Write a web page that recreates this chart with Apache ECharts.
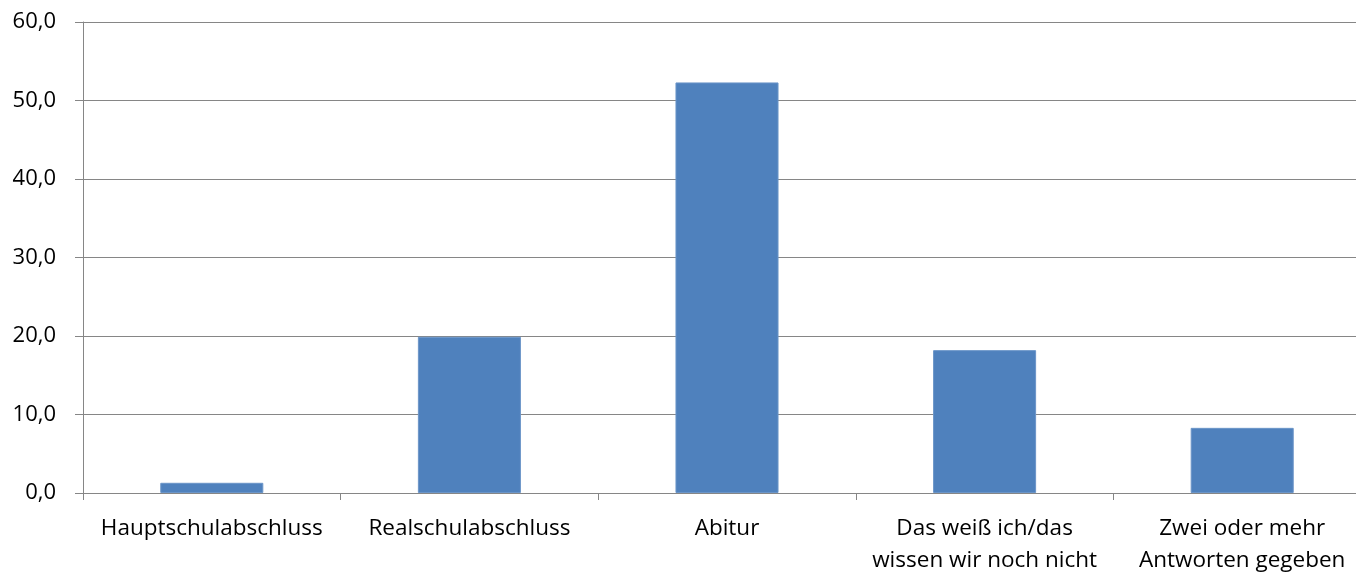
<!DOCTYPE html>
<html><head><meta charset="utf-8">
<script src="https://cdn.jsdelivr.net/npm/echarts@6/dist/echarts.min.js"></script>
<style>html,body{margin:0;padding:0;background:#fff;overflow:hidden;width:1356px;height:577px}#c{width:1371px;height:577px}</style>
</head><body><div id="c"></div>
<script>
const categories = ["Hauptschulabschluss", "Realschulabschluss", "Abitur", "Das weiß ich/das\nwissen wir noch nicht", "Zwei oder mehr\nAntworten gegeben"];
const values = [1.3, 19.9, 52.3, 18.2, 8.3];
const yTicks = {min: 0, max: 60, interval: 10};

const chart = echarts.init(document.getElementById('c'), null, {renderer: 'canvas'});
const font = '"Open Sans", "Noto Sans", sans-serif';
chart.setOption({
  animation: false,
  grid: {left: 83, right: 0, top: 22, bottom: 80, containLabel: false},
  xAxis: {
    type: 'category', data: categories,
    axisLine: {lineStyle: {color: '#868686', width: 1}},
    axisTick: {show: true, length: 7, lineStyle: {color: '#868686'}},
    axisLabel: {color: '#000', fontFamily: font, fontSize: 22.5, margin: 20, lineHeight: 32, interval: 0}
  },
  yAxis: {
    type: 'value', min: yTicks.min, max: yTicks.max, interval: yTicks.interval,
    axisLine: {show: true, lineStyle: {color: '#868686', width: 1}},
    axisTick: {show: true, length: 8, lineStyle: {color: '#868686'}},
    splitLine: {lineStyle: {color: '#868686', width: 1}},
    axisLabel: {color: '#000', fontFamily: font, fontSize: 22, margin: 27,
      formatter: v => v.toFixed(1).replace('.', ',')}
  },
  series: [{
    type: 'bar', data: values, barWidth: '40%',
    itemStyle: {color: '#4F81BD', borderColor: '#6b95c8', borderWidth: 1}
  }]
});
</script></body></html>
